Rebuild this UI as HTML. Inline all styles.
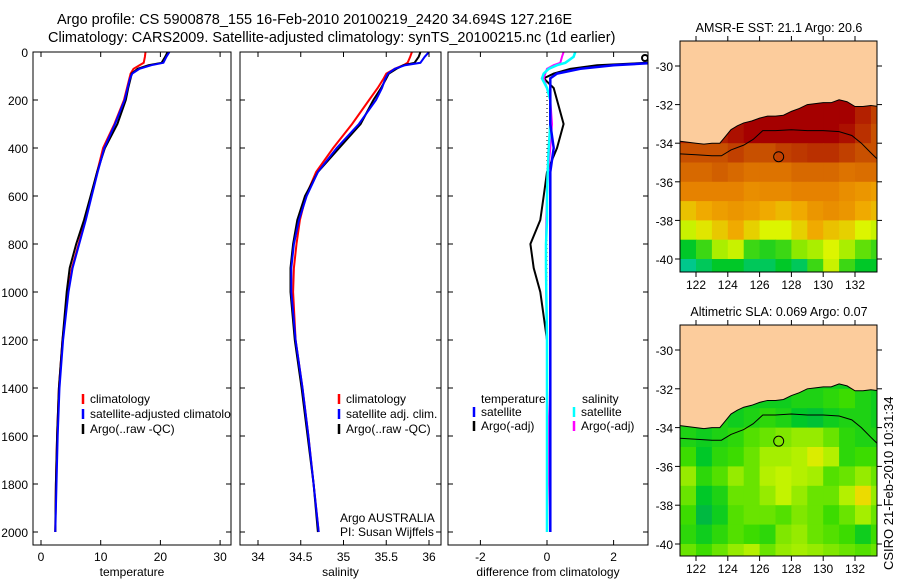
<!DOCTYPE html>
<html><head><meta charset="utf-8">
<style>
body{margin:0;background:#fff;}
svg{display:block;font-family:"Liberation Sans",sans-serif;}
text{fill:#000;}
</style></head>
<body>
<svg id="fig" width="900" height="580" viewBox="0 0 900 580" xmlns="http://www.w3.org/2000/svg">
<text x="57" y="24" font-size="14.5">Argo profile: CS 5900878_155 16-Feb-2010 20100219_2420 34.694S 127.216E</text>
<text x="48" y="42" font-size="14.5">Climatology: CARS2009. Satellite-adjusted climatology: synTS_20100215.nc (1d earlier)</text>
<text x="779" y="32" font-size="12.5" text-anchor="middle">AMSR-E SST: 21.1 Argo: 20.6</text>
<text x="779" y="316" font-size="12.5" text-anchor="middle">Altimetric SLA: 0.069 Argo: 0.07</text>
<text transform="translate(893,570) rotate(-90)" font-size="13">CSIRO 21-Feb-2010 10:31:34</text>
<defs>
<clipPath id="c1"><rect x="33" y="52" width="198" height="493"/></clipPath>
<clipPath id="c2"><rect x="240" y="52" width="201" height="493"/></clipPath>
<clipPath id="c3"><rect x="448" y="52" width="200" height="493"/></clipPath>
<clipPath id="m1"><rect x="680" y="41" width="197" height="231"/></clipPath>
<clipPath id="m2"><rect x="680" y="325" width="197" height="231"/></clipPath>
</defs>
<g id="g1" clip-path="url(#c1)"></g>
<g id="g2" clip-path="url(#c2)"></g>
<g id="g3" clip-path="url(#c3)"></g>
<g id="gm1" clip-path="url(#m1)"></g>
<g id="gm2" clip-path="url(#m2)"></g>
<g id="axes"></g>
</svg>
<script>
// ---------- data ----------
const depthTicks=[0,200,400,600,800,1000,1200,1400,1600,1800,2000];
const tempTicks=[0,10,20,30];
const salTicks=[34,34.5,35,35.5,36];
const diffTicks=[-2,0,2];
const latTicks=[-30,-32,-34,-36,-38,-40];
const lonTicks=[122,124,126,128,130,132];

const profDepth=[0,20,45,55,70,90,110,150,200,300,400,500,600,700,800,900,1000,1200,1400,1600,1800,2000];
const tempClim=[17.5,17.4,17.2,16.5,15.5,15,14.8,14.4,13.9,12.3,10.4,9.4,8.4,7.4,6.3,5.2,4.5,3.6,3.0,2.7,2.5,2.4];
const tempSat=[21.5,21,20.5,18.5,16.5,15.3,14.9,14.5,14,12.4,10.6,9.5,8.5,7.5,6.4,5.3,4.6,3.7,3.1,2.8,2.6,2.4];
const tempArgo=[21.2,20.8,20.2,18,16.2,15.2,15,14.6,14.2,12.8,10.7,9.4,8.3,7.2,5.9,4.8,4.3,3.6,3.0,2.7,2.5,2.4];
const salClim=[35.8,35.78,35.75,35.7,35.6,35.5,35.47,35.4,35.3,35.1,34.88,34.68,34.56,34.49,34.45,34.42,34.41,34.44,34.52,34.59,34.65,34.71];
const salSat=[36.0,35.95,35.9,35.72,35.6,35.52,35.49,35.45,35.38,35.18,34.92,34.7,34.57,34.48,34.42,34.39,34.39,34.44,34.52,34.59,34.65,34.71];
const salArgo=[35.9,35.88,35.83,35.7,35.62,35.53,35.5,35.44,35.35,35.2,34.95,34.7,34.55,34.46,34.41,34.38,34.38,34.43,34.51,34.58,34.65,34.7];
const dTempSat=[4,3.6,3.3,2,1,0.3,0.1,0.1,0.1,0.1,0.2,0.1,0.1,0.1,0.1,0.1,0.1,0.1,0.1,0.1,0.1,0.1];
const dTempArgo=[3.7,3.4,3,1.5,0.7,0.2,-0.1,0.2,0.3,0.5,0.3,0,-0.1,-0.2,-0.5,-0.4,-0.2,0,0,0,0,0];
const dSalSat=[0.85,0.8,0.55,0.3,0.05,-0.1,-0.15,0,0.1,0.1,0.05,0.02,0,0,-0.03,-0.03,-0.02,0,0,0,0,0];
const dSalArgo=[0.5,0.45,0.4,0.2,0,-0.05,-0.1,0,0.1,0.15,0.1,0.03,0,-0.02,-0.03,-0.03,-0.02,0,0,0.05,0.03,0];

const gridLon=[121.5,122.5,123.5,124.5,125.5,126.5,127.5,128.5,129.5,130.5,131.5,132.5,133.5];
const gridLat=[-31.5,-32.5,-33.5,-34.5,-35.5,-36.5,-37.5,-38.5,-39.5,-40.5];
const sst=[
[22,22,22,22,22,22,22,22,22,22,22,22,22],
[22,22,22,22,22,22,22,22,22,22,22,21.6,21.2],
[21.6,21.6,21.6,21.8,22,22,22,22,22,22,21.8,21.4,21],
[21,21,21,21.2,21,21,21.2,21.3,21.4,21.4,21.2,21,21],
[20.5,20.5,20.7,20.5,20.3,20.3,20.3,20.5,20.5,20.5,20.3,20.4,20.4],
[20,20,20,20,19.7,19.8,19.8,20,20,20,19.7,19.5,19.3],
[18.7,19,19.3,19.5,19.3,19,18.8,19,19.5,19.7,19.5,19,18.8],
[17.8,18.2,18.6,19,18.5,18,18,18.5,19,18.7,18.5,18,17.8],
[16,16.5,17.5,17.8,16.5,16.3,16.5,17.2,17.5,18,17.5,16.8,16.5],
[15,15.5,16,16,15.5,15.5,16,15.5,16.5,17.8,16.5,16,16]];
const sla=[
[0.05,0.05,0.05,0.05,0.05,0.05,0.05,0.05,0.05,0.05,0.05,0.05,0.05],
[0.05,0.05,0.05,0.05,0.05,0.05,0.05,0.06,0.06,0.07,0.08,0.06,0.05],
[0.06,0.06,0.06,0.05,0.06,0.07,0.06,0.04,0.03,0.05,0.06,0.06,0.05],
[0.06,0.05,0.06,0.07,0.09,0.1,0.11,0.12,0.12,0.1,0.07,0.06,0.06],
[0.08,0.04,0.07,0.08,0.1,0.13,0.13,0.14,0.17,0.14,0.07,0.08,0.08],
[0.12,0.07,0.09,0.12,0.1,0.14,0.15,0.14,0.13,0.09,0.1,0.12,0.1],
[0.1,0.04,0.06,0.1,0.1,0.12,0.15,0.12,0.1,0.1,0.14,0.19,0.12],
[0.08,0.02,0.05,0.09,0.1,0.1,0.09,0.11,0.1,0.08,0.1,0.13,0.1],
[0.07,0.05,0.07,0.09,0.08,0.07,0.11,0.12,0.1,0.09,0.08,0.05,0.08],
[0.1,0.08,0.1,0.12,0.14,0.1,0.12,0.13,0.12,0.11,0.1,0.09,0.1]];
const coastLon=[121,121.5,122,122.5,123,123.5,123.8,124.2,124.6,125,125.5,126,126.5,127,127.5,128,128.5,129,129.5,130,130.5,131,131.5,132,132.5,133,133.5];
const coastLat=[-33.9,-33.95,-34.0,-34.05,-34.0,-34.0,-33.7,-33.3,-33.1,-32.95,-32.85,-32.7,-32.6,-32.6,-32.55,-32.35,-32.2,-32.0,-31.95,-31.9,-31.9,-31.75,-31.85,-32.1,-32.1,-32.05,-32.1];
const contLon=[121,122,123,123.6,124.2,125,125.6,126.2,127,128,129,130,131,131.8,132.4,133,133.5];
const contLat=[-34.55,-34.6,-34.65,-34.65,-34.35,-34.1,-33.8,-33.35,-33.35,-33.3,-33.35,-33.35,-33.4,-33.6,-34.0,-34.5,-34.9];
const argoLon=127.2, argoLat=-34.7;

// ---------- helpers ----------
const NS="http://www.w3.org/2000/svg";
function mk(tag,parent,attrs){const e=document.createElementNS(NS,tag);for(const k in attrs)e.setAttribute(k,attrs[k]);parent.appendChild(e);return e;}
const Y=d=>52+d*0.24;
const xT=v=>41+v*5.97;
const xS=v=>258+(v-34)*85.5;
const xD=v=>547+v*33.3;
const ax=document.getElementById('axes');

function line(g,xs,xf,col,w,name){
  const p=mk('polyline',g,{points:xs.map((v,i)=>xf(v).toFixed(1)+','+Y(profDepth[i]).toFixed(1)).join(' '),fill:'none',stroke:col,'stroke-width':w});
  
  
}
function frame(x0,x1,ticks,xf,name,label,showDepth){
  const r=mk('rect',ax,{x:x0,y:52,width:x1-x0,height:493,fill:'none',stroke:'#000','stroke-width':1});
  
  
  depthTicks.forEach(d=>{
    mk('line',ax,{x1:x0,x2:x0+5,y1:Y(d),y2:Y(d),stroke:'#000'});
    mk('line',ax,{x1:x1-5,x2:x1,y1:Y(d),y2:Y(d),stroke:'#000'});
    if(showDepth){const t=mk('text',ax,{x:28,y:Y(d)+5,'font-size':12,'text-anchor':'end'});t.textContent=d;
      
      }
  });
  ticks.forEach(v=>{
    const x=xf(v);
    mk('line',ax,{x1:x,x2:x,y1:545,y2:540,stroke:'#000'});
    mk('line',ax,{x1:x,x2:x,y1:52,y2:57,stroke:'#000'});
    const t=mk('text',ax,{x:x,y:561,'font-size':12,'text-anchor':'middle'});t.textContent=v;
    
    
  });
  const t=mk('text',ax,{x:(x0+x1)/2,y:576,'font-size':12,'text-anchor':'middle'});t.textContent=label;
  
  
}
function legend(g,x,y,col,txt,name){
  mk('line',g,{x1:x,x2:x,y1:y-9,y2:y+1,stroke:col,'stroke-width':2.5});
  const t=mk('text',g,{x:x+7,y:y,'font-size':12});t.textContent=txt;
  
  
}

// ---------- panel 1 ----------
const g1=document.getElementById('g1');
line(g1,tempClim,xT,'#ff0000',2,'temp-climatology-line');
line(g1,tempArgo,xT,'#000000',2,'temp-argo-line');
line(g1,tempSat,xT,'#0000ff',2,'temp-satellite-line');
legend(g1,83,403,'#ff0000','climatology','legend-climatology');
legend(g1,83,418,'#0000ff','satellite-adjusted climatology','legend-satellite-adjusted');
legend(g1,83,433,'#000000','Argo(..raw -QC)','legend-argo');
frame(33,231,tempTicks,xT,'temperature','temperature',true);

// ---------- panel 2 ----------
const g2=document.getElementById('g2');
line(g2,salClim,xS,'#ff0000',2,'sal-climatology-line');
line(g2,salArgo,xS,'#000000',2,'sal-argo-line');
line(g2,salSat,xS,'#0000ff',2,'sal-satellite-line');
legend(g2,339,403,'#ff0000','climatology','legend-sal-climatology');
legend(g2,339,418,'#0000ff','satellite adj. clim.','legend-sal-satellite');
legend(g2,339,433,'#000000','Argo(..raw -QC)','legend-sal-argo');
let t=mk('text',g2,{x:340,y:522,'font-size':12});t.textContent='Argo AUSTRALIA';


t=mk('text',g2,{x:340,y:536,'font-size':12});t.textContent='PI: Susan Wijffels';


frame(240,441,salTicks,xS,'salinity','salinity',false);

// ---------- panel 3 ----------
const g3=document.getElementById('g3');
mk('line',g3,{x1:xD(0),x2:xD(0),y1:Y(150),y2:Y(2000),stroke:'#000','stroke-dasharray':'1,3'});
line(g3,dTempArgo,xD,'#000000',2,'diff-temp-argo-line');
line(g3,dSalArgo,xD,'#ff00ff',2,'diff-sal-argo-line');
line(g3,dSalSat,xD,'#00ffff',2.5,'diff-sal-satellite-line');
line(g3,dTempSat,xD,'#0000ff',2.5,'diff-temp-satellite-line');
mk('circle',g3,{cx:645,cy:Y(25),r:3,fill:'none',stroke:'#000','stroke-width':2});
t=mk('text',g3,{x:481,y:403,'font-size':12});t.textContent='temperature';


t=mk('text',g3,{x:582,y:403,'font-size':12});t.textContent='salinity';


legend(g3,474,416,'#0000ff','satellite','legend-diff-temp-sat');
legend(g3,474,430,'#000000','Argo(-adj)','legend-diff-temp-argo');
legend(g3,574,416,'#00ffff','satellite','legend-diff-sal-sat');
legend(g3,574,430,'#ff00ff','Argo(-adj)','legend-diff-sal-argo');
frame(448,648,diffTicks,xD,'difference','difference from climatology',false);

// ---------- maps ----------
function lerpCol(stops,v){
  if(v<=stops[0][0])return stops[0][1];
  for(let i=1;i<stops.length;i++){if(v<=stops[i][0]){const a=stops[i-1],b=stops[i];const f=(v-a[0])/(b[0]-a[0]);
    const c=a[1].map((x,k)=>Math.round(x+(b[1][k]-x)*f));return c;}}
  return stops[stops.length-1][1];
}
const sstStops=[[15,[0,200,140]],[16,[0,200,40]],[17,[120,230,0]],[18,[220,245,0]],[19,[240,170,0]],[20,[230,130,0]],[21,[200,80,0]],[22,[165,0,0]]];
const slaStops=[[0,[0,170,90]],[0.04,[0,200,40]],[0.08,[60,220,0]],[0.12,[150,235,0]],[0.16,[210,245,0]],[0.2,[245,210,0]]];
function map(gid,y0,latA,latB,vals,stops,name){
  const g=document.getElementById(gid);
  const lx=v=>696+(v-122)*15.9;
  const ly=v=>latA+(v+30)*(latB-latA)/-10;
  gridLat.forEach((la,i)=>gridLon.forEach((lo,j)=>{
    const c=lerpCol(stops,vals[i][j]);
    const r=mk('rect',g,{x:lx(lo-0.5),y:ly(la+0.5),width:16.5,height:(latB-latA)/10+0.5,fill:'rgb('+c.join(',')+')'});
    
    
  }));
  let pts=coastLon.map((lo,i)=>lx(lo)+','+ly(coastLat[i])).join(' ');
  pts+=' '+lx(134)+','+ly(coastLat[coastLat.length-1])+' '+lx(134)+','+ly(-28)+' '+lx(120.5)+','+ly(-28)+' '+lx(120.5)+','+ly(coastLat[0]);
  const land=mk('polygon',g,{points:pts,fill:'#fccc9c',stroke:'#000','stroke-width':1});
  
  
  const ct=mk('polyline',g,{points:contLon.map((lo,i)=>lx(lo)+','+ly(contLat[i])).join(' '),fill:'none',stroke:'#000','stroke-width':1});
  
  
  const ci=mk('circle',g,{cx:lx(argoLon),cy:ly(argoLat),r:5,fill:'none',stroke:'#000','stroke-width':1});
  
  
  const fr=mk('rect',ax,{x:680,y:y0[0],width:197,height:y0[1]-y0[0],fill:'none',stroke:'#000'});
  
  
  latTicks.forEach(v=>{const y=ly(v);
    mk('line',ax,{x1:675,x2:680,y1:y,y2:y,stroke:'#000'});
    mk('line',ax,{x1:877,x2:882,y1:y,y2:y,stroke:'#000'});
    const t=mk('text',ax,{x:673,y:y+5,'font-size':12,'text-anchor':'end'});t.textContent=v;
    
    });
  lonTicks.forEach(v=>{const x=lx(v);
    mk('line',ax,{x1:x,x2:x,y1:y0[1],y2:y0[1]+5,stroke:'#000'});
    mk('line',ax,{x1:x,x2:x,y1:y0[0],y2:y0[0]-5,stroke:'#000'});
    const t=mk('text',ax,{x:x,y:y0[1]+17,'font-size':12,'text-anchor':'middle'});t.textContent=v;
    
    });
}
map('gm1',[41,272],66,259,sst,sstStops,'sst-map');
map('gm2',[325,556],350,544,sla,slaStops,'sla-map');
</script>
</body></html>
